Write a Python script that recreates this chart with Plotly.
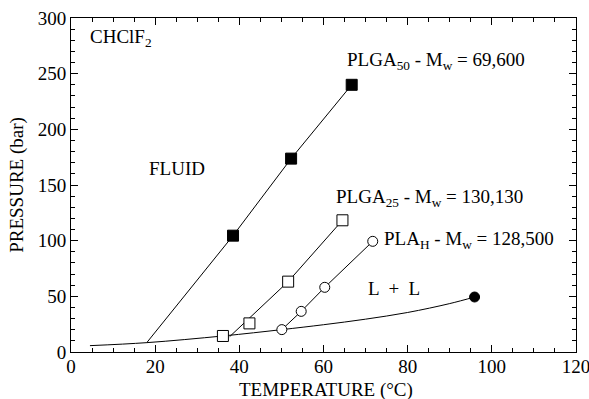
import plotly.graph_objects as go

# PLGA50 (filled squares)
plga50_T = [38.5, 52.3, 66.7]
plga50_P = [104.5, 173.7, 240.0]
plga50_line_T = [18.0, 38.5, 52.3, 66.7]
plga50_line_P = [8.4, 104.5, 173.7, 240.0]

# PLGA25 (open squares)
plga25_T = [36.1, 42.4, 51.6, 64.5]
plga25_P = [14.4, 25.7, 63.2, 118.3]
plga25_line_T = [37.7, 51.6, 64.5]
plga25_line_P = [13.8, 63.2, 118.3]

# PLA_H (open circles)
plah_T = [50.1, 54.7, 60.3, 71.7]
plah_P = [20.1, 36.5, 58.1, 99.4]

# critical point of solvent (filled circle)
crit_T = [95.9]
crit_P = [49.4]

# vapour pressure curve
vp_T = [4.5, 18.0, 36.1, 50.1, 60.0, 70.0, 80.0, 90.0, 95.9]
vp_P = [5.7, 8.4, 14.4, 20.1, 24.5, 29.5, 35.5, 43.5, 49.4]

FONT = "Liberation Serif, Times New Roman, serif"
FS = 19
line = dict(color="black", width=1)

fig = go.Figure()
fig.add_trace(go.Scatter(x=vp_T, y=vp_P, mode="lines", line=dict(color="black", width=1, shape="spline")))
fig.add_trace(go.Scatter(x=plga50_line_T, y=plga50_line_P, mode="lines", line=line))
fig.add_trace(go.Scatter(x=plga25_line_T, y=plga25_line_P, mode="lines", line=line))
fig.add_trace(go.Scatter(x=plah_T, y=plah_P, mode="lines", line=line))
fig.add_trace(go.Scatter(x=plga50_T, y=plga50_P, mode="markers",
                         marker=dict(symbol="square", size=11, color="black", line=dict(color="black", width=1))))
fig.add_trace(go.Scatter(x=plga25_T, y=plga25_P, mode="markers",
                         marker=dict(symbol="square", size=11, color="white", line=dict(color="black", width=1))))
fig.add_trace(go.Scatter(x=plah_T, y=plah_P, mode="markers",
                         marker=dict(symbol="circle", size=10, color="white", line=dict(color="black", width=1))))
fig.add_trace(go.Scatter(x=crit_T, y=crit_P, mode="markers",
                         marker=dict(symbol="circle", size=10, color="black", line=dict(color="black", width=1))))

annots = [
    (4.0, 282, "CHClF<sub>2</sub>", "left"),
    (65.2, 261, "PLGA<sub>50</sub> - M<sub>w</sub> = 69,600", "left"),
    (25.3, 165, "FLUID", "center"),
    (62.5, 138, "PLGA<sub>25</sub> - M<sub>w</sub> = 130,130", "left"),
    (73.8, 101, "PLA<sub>H</sub> - M<sub>w</sub> = 128,500", "left"),
    (76.8, 57, "L  +  L", "center"),
]
for x, y, t, xa in annots:
    fig.add_annotation(x=x, y=y, text=t, showarrow=False, xanchor=xa, yanchor="middle",
                       font=dict(family=FONT, size=FS, color="black"))

# x-axis title (placed below tick labels)
fig.add_annotation(x=0.505, y=0, xref="paper", yref="paper", yshift=-38, text="TEMPERATURE (°C)",
                   showarrow=False, xanchor="center", yanchor="middle",
                   font=dict(family=FONT, size=FS, color="black"))

axis_common = dict(showgrid=False, zeroline=False, showline=True, linecolor="black", linewidth=1,
                   mirror="allticks", ticks="inside", ticklen=7, tickcolor="black", tickwidth=1,
                   automargin=False, ticklabeloverflow="allow",
                   tickfont=dict(family=FONT, size=FS, color="black"))
fig.update_xaxes(range=[0, 120], dtick=20, tick0=0, ticklabelstandoff=-3,
                 minor=dict(dtick=5, ticks="inside", ticklen=4, tickcolor="black"),
                 **axis_common)
fig.update_yaxes(range=[0, 300], dtick=50, tick0=0,
                 minor=dict(dtick=10, ticks="inside", ticklen=4, tickcolor="black"),
                 title=dict(text="PRESSURE (bar)", font=dict(family=FONT, size=FS, color="black"), standoff=9),
                 **axis_common)
fig.update_layout(width=589, height=399, margin=dict(l=71, r=13, t=18, b=47),
                  plot_bgcolor="white", paper_bgcolor="white", showlegend=False)
fig.write_html("out.html", config={"displayModeBar": False},
               post_script="document.body.style.margin='0';document.body.style.overflow='hidden';")
